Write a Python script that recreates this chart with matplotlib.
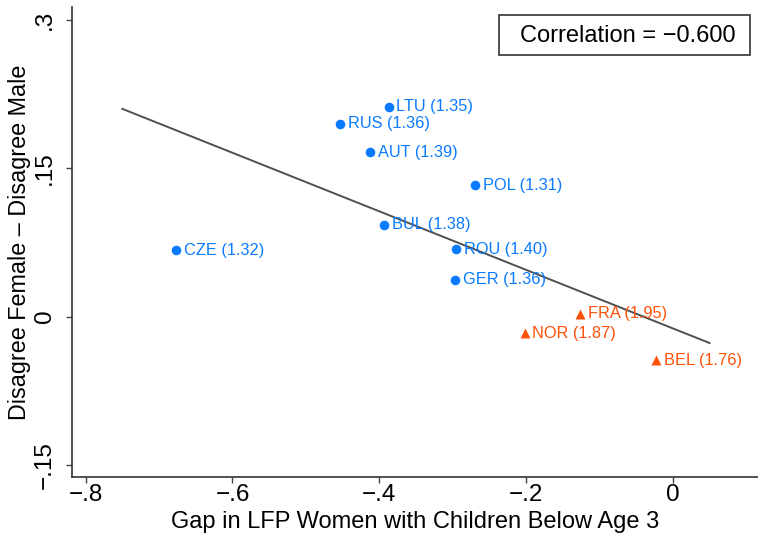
import matplotlib
matplotlib.use("Agg")
import matplotlib.pyplot as plt
from matplotlib.patches import Rectangle

# country codes, gap in LFP (x), attitude gap (y), label value
low_codes = ["LTU", "RUS", "AUT", "POL", "BUL", "CZE", "ROU", "GER"]
low_x = [-0.387, -0.453, -0.412, -0.269, -0.393, -0.677, -0.295, -0.297]
low_y = [0.212, 0.195, 0.166, 0.133, 0.093, 0.067, 0.068, 0.037]
low_vals = ["1.35", "1.36", "1.39", "1.31", "1.38", "1.32", "1.40", "1.36"]

high_codes = ["FRA", "NOR", "BEL"]
high_x = [-0.126, -0.202, -0.023]
high_y = [0.003, -0.017, -0.044]
high_vals = ["1.95", "1.87", "1.76"]

# fitted line
fit_range = [-0.75, 0.05]
fit_slope = -0.296
fit_intercept = -0.012
correlation = -0.600

xticks = [-0.8, -0.6, -0.4, -0.2, 0]
xticklabels = ["\u2212.8", "\u2212.6", "\u2212.4", "\u2212.2", "0"]
yticks = [-0.15, 0, 0.15, 0.3]
yticklabels = ["\u2212.15", "0", ".15", ".3"]

blue = "#0a7bff"
orange = "#ff5008"
plt.rcParams["font.family"] = ["Liberation Sans", "DejaVu Sans"]

fig = plt.figure(figsize=(7.58, 5.36), dpi=100)
ax = fig.add_axes([0.0956, 0.1106, 0.9044, 0.8763])

fx = fit_range
fy = [fit_intercept + fit_slope * v for v in fx]
ax.plot(fx, fy, color="#505050", lw=1.4, zorder=1)

ax.scatter(low_x, low_y, s=48, color=blue, marker="o", linewidths=0, zorder=3)
for c, x, y, v in zip(low_codes, low_x, low_y, low_vals):
    ax.annotate(f"{c} ({v})", (x, y), xytext=(5.5, 0), textcoords="offset points",
                va="center", ha="left", fontsize=11.8, color=blue, zorder=4)

ax.scatter(high_x, high_y, s=52, color=orange, marker="^", linewidths=0, zorder=3)
for c, x, y, v in zip(high_codes, high_x, high_y, high_vals):
    ax.annotate(f"{c} ({v})", (x, y), xytext=(5.5, 0), textcoords="offset points",
                va="center", ha="left", fontsize=11.8, color=orange, zorder=4)

ax.set_xlim(-0.818, 0.116)
ax.set_ylim(-0.162, 0.313)
ax.set_xticks(xticks)
ax.set_xticklabels(xticklabels, fontsize=17.5)
ax.set_yticks(yticks)
ax.set_yticklabels(yticklabels, fontsize=17.5, rotation=90, va="center")
ax.tick_params(direction="out", length=4, width=1, color="#444444")
ax.tick_params(axis="x", pad=1.5)
ax.tick_params(axis="y", pad=8)

for s in ["top", "right"]:
    ax.spines[s].set_visible(False)
for s in ["left", "bottom"]:
    ax.spines[s].set_color("#333333")
    ax.spines[s].set_linewidth(1.2)

ax.set_xlabel("Gap in LFP Women with Children Below Age 3", fontsize=17)
ax.set_ylabel("Disagree Female \u2013 Disagree Male", fontsize=16.8)
ax.xaxis.set_label_coords(0.5, -0.074)
ax.yaxis.set_label_coords(-0.061, 0.5)

# correlation box
fig.patches.append(Rectangle((499 / 758, 1 - 55 / 536), 251 / 758, 40 / 536,
                             transform=fig.transFigure, facecolor="white",
                             edgecolor="#333333", lw=1.2))
fig.text(628 / 758, 1 - 36 / 536, f"Correlation = \u2212{abs(correlation):.3f}",
         ha="center", va="center", fontsize=17)

fig.savefig("out.png", dpi=100)
